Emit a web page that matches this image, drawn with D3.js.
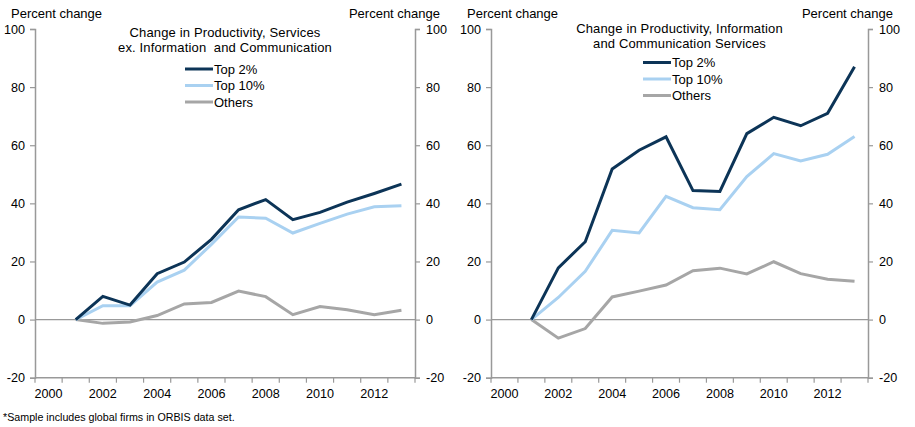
<!DOCTYPE html>
<html>
<head>
<meta charset="utf-8">
<script src="https://cdn.jsdelivr.net/npm/d3@7"></script>
<style>
  body { margin: 0; background: #fff; }
  text { font-family: "Liberation Sans", Arial, sans-serif; fill: #000; }
</style>
</head>
<body>
<svg id="chart" width="915" height="427"></svg>
<script>
// categories (x axis) and tick labels
const years = d3.range(2000, 2014);
const yearLabels = [2000, 2002, 2004, 2006, 2008, 2010, 2012];
const dataYears = d3.range(2001, 2014);
const yTicks = [-20, 0, 20, 40, 60, 80, 100];

const seriesNames = ["Top 2%", "Top 10%", "Others"];
const cols = ["#0c3457", "#a9d1f1", "#a6a6a6"];

// services ex. information and communication
const svcTop2 = [0, 8, 5, 15.8, 19.8, 27.6, 37.8, 41.3, 34.4, 36.9, 40.4, 43.4, 46.6];
const svcTop10 = [0, 4.8, 4.8, 12.9, 17, 25.9, 35.3, 34.9, 29.8, 33.1, 36.3, 38.8, 39.2];
const svcOthers = [0, -1.3, -0.8, 1.4, 5.4, 5.9, 9.8, 7.9, 1.7, 4.5, 3.4, 1.7, 3.2];

// information and communication services
const ictTop2 = [0, 17.8, 26.8, 51.8, 58.3, 62.9, 44.4, 44.1, 64, 69.6, 66.7, 71, 87];
const ictTop10 = [0, 7.6, 16.6, 30.7, 29.8, 42.4, 38.5, 37.8, 49.2, 57.1, 54.6, 56.9, 63];
const ictOthers = [0, -6.4, -3.1, 7.8, 9.8, 11.9, 16.8, 17.7, 15.7, 19.9, 15.8, 13.9, 13.2];

const panels = [
    { left: 35, right: 415, title: ["Change in Productivity, Services", "ex. Information  and Communication"],
      titleY: 32, legendY: 69, legendX: 185, series: [svcTop2, svcTop10, svcOthers] },
    { left: 491, right: 868, title: ["Change in Productivity, Information", "and Communication Services"],
      titleY: 28, legendY: 62.5, legendX: 643, series: [ictTop2, ictTop10, ictOthers] }
];

const svg = d3.select("#chart");
const plotTop = 29, plotBottom = 377.7;
const y = d3.scaleLinear().domain([-20, 100]).range([plotBottom, plotTop]);
const axisCol = "#999";
const fs = "13px";

panels.forEach(p => {
    const g = svg.append("g");
    const x = d3.scaleBand().domain(years).range([p.left, p.right]).padding(0);
    const cx = d => x(d) + x.bandwidth() / 2;

    // zero line
    g.append("line")
        .attr("x1", p.left).attr("x2", p.right)
        .attr("y1", y(0)).attr("y2", y(0))
        .attr("stroke", axisCol).attr("stroke-width", 1.2);

    // left axis
    const yl = g.append("g")
        .attr("transform", `translate(${p.left},0)`)
        .call(d3.axisLeft(y).tickValues(yTicks).tickSize(5).tickPadding(5).tickFormat(d => String(d)));
    // right axis
    const yr = g.append("g")
        .attr("transform", `translate(${p.right},0)`)
        .call(d3.axisRight(y).tickValues(yTicks).tickSize(5).tickPadding(6).tickFormat(d => String(d)));

    [yl, yr].forEach(a => {
        a.select(".domain").attr("stroke", axisCol).attr("stroke-width", 1.5);
        a.selectAll(".tick line").attr("stroke", axisCol).attr("stroke-width", 1.2);
        a.selectAll(".tick text").style("font-size", "12.6px").attr("fill", "#000");
    });

    // x axis at bottom with ticks on band edges
    const xa = g.append("g").attr("transform", `translate(0,${plotBottom})`);
    xa.append("line")
        .attr("x1", p.left).attr("x2", p.right)
        .attr("stroke", axisCol).attr("stroke-width", 1.5);
    xa.selectAll("line.tk")
        .data(years.concat([2014]))
        .join("line")
        .attr("class", "tk")
        .attr("x1", d => d === 2014 ? p.right : x(d))
        .attr("x2", d => d === 2014 ? p.right : x(d))
        .attr("y1", 0).attr("y2", 5)
        .attr("stroke", axisCol).attr("stroke-width", 1.2);
    xa.selectAll("text")
        .data(yearLabels)
        .join("text")
        .attr("x", d => cx(d))
        .attr("y", 20)
        .attr("text-anchor", "middle")
        .style("font-size", "12.6px")
        .text(d => d);

    // axis titles
    g.append("text").attr("x", p.left - 24).attr("y", 18)
        .style("font-size", fs).text("Percent change");
    g.append("text").attr("x", p.right + 25).attr("y", 18)
        .attr("text-anchor", "end")
        .style("font-size", fs).text("Percent change");

    // chart title
    const mid = (p.left + p.right) / 2;
    g.selectAll("text.title")
        .data(p.title)
        .join("text")
        .attr("class", "title")
        .attr("x", mid)
        .attr("y", (d, i) => p.titleY + 4.5 + i * 15)
        .attr("text-anchor", "middle")
        .style("font-size", fs)
        .style("letter-spacing", "0.15px")
        .style("white-space", "pre")
        .text(d => d);

    // lines
    const line = d3.line().x((d, i) => cx(dataYears[i])).y(d => y(d));
    p.series.slice().reverse().forEach((s, j) => {
        const k = p.series.length - 1 - j;
        g.append("path")
            .datum(s)
            .attr("d", line)
            .attr("fill", "none")
            .attr("stroke", cols[k])
            .attr("stroke-width", 3)
            .attr("stroke-linejoin", "miter");
    });

    // legend
    seriesNames.forEach((n, i) => {
        const ly = p.legendY + i * 16.5;
        g.append("line")
            .attr("x1", p.legendX).attr("x2", p.legendX + 28)
            .attr("y1", ly).attr("y2", ly)
            .attr("stroke", cols[i]).attr("stroke-width", 3);
        g.append("text")
            .attr("x", p.legendX + 29).attr("y", ly + 4.5)
            .style("font-size", fs)
            .text(n);
    });
});

svg.append("text").attr("x", 3).attr("y", 421)
    .style("font-size", "10.7px")
    .text("*Sample includes global firms in ORBIS data set.");
</script>
</body>
</html>
